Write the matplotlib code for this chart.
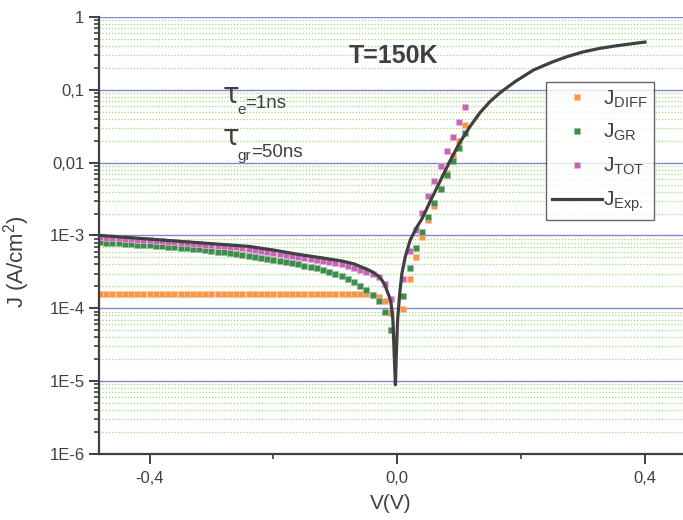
import matplotlib
matplotlib.use("Agg")
import matplotlib.pyplot as plt
from matplotlib.ticker import FixedLocator, NullFormatter
from matplotlib.lines import Line2D

plt.rcParams['font.family'] = ['Liberation Sans', 'DejaVu Sans']
plt.rcParams['mathtext.fontset'] = 'custom'
plt.rcParams['mathtext.rm'] = 'Liberation Sans'
plt.rcParams['mathtext.it'] = 'Liberation Sans'
plt.rcParams['mathtext.bf'] = 'Liberation Sans:bold'

# Données
v_left = [-0.48, -0.47, -0.46, -0.45, -0.44, -0.43, -0.42, -0.41, -0.40, -0.39,
          -0.38, -0.37, -0.36, -0.35, -0.34, -0.33, -0.32, -0.31, -0.30, -0.29,
          -0.28, -0.27, -0.26, -0.25, -0.24, -0.23, -0.22, -0.21, -0.20, -0.19,
          -0.18, -0.17, -0.16, -0.15, -0.14, -0.13, -0.12, -0.11, -0.10, -0.09,
          -0.08, -0.07, -0.06, -0.05, -0.04, -0.03, -0.02, -0.01]
v_right = [0.01, 0.02, 0.03, 0.04, 0.05, 0.06, 0.07, 0.08, 0.09, 0.10, 0.11]

j_diff_left = [
    1.58e-4, 1.58e-4, 1.58e-4, 1.58e-4, 1.58e-4, 1.58e-4, 1.58e-4, 1.58e-4, 1.58e-4, 1.58e-4,
    1.58e-4, 1.58e-4, 1.58e-4, 1.58e-4, 1.58e-4, 1.58e-4, 1.58e-4, 1.58e-4, 1.58e-4, 1.58e-4,
    1.58e-4, 1.58e-4, 1.58e-4, 1.58e-4, 1.58e-4, 1.58e-4, 1.58e-4, 1.58e-4, 1.58e-4, 1.58e-4,
    1.58e-4, 1.58e-4, 1.58e-4, 1.58e-4, 1.58e-4, 1.58e-4, 1.58e-4, 1.58e-4, 1.58e-4, 1.58e-4,
    1.58e-4, 1.58e-4, 1.57e-4, 1.55e-4, 1.50e-4, 1.43e-4, 1.24e-4, 0.85e-4]
j_diff_right = [9.8e-5, 2.53e-4, 5.12e-4, 9.44e-4, 1.63e-3, 2.54e-3, 4.31e-3,
                7.24e-3, 1.23e-2, 2.0e-2, 3.26e-2]

j_gr_left = [
    8.05e-4, 7.96e-4, 7.87e-4, 7.78e-4, 7.69e-4, 7.60e-4, 7.51e-4, 7.41e-4, 7.31e-4, 7.21e-4,
    7.11e-4, 7.01e-4, 6.91e-4, 6.81e-4, 6.71e-4, 6.58e-4, 6.44e-4, 6.30e-4, 6.16e-4, 6.02e-4,
    5.88e-4, 5.74e-4, 5.60e-4, 5.46e-4, 5.30e-4, 5.14e-4, 4.98e-4, 4.82e-4, 4.66e-4, 4.50e-4,
    4.34e-4, 4.18e-4, 4.02e-4, 3.86e-4, 3.70e-4, 3.54e-4, 3.37e-4, 3.19e-4, 2.99e-4, 2.77e-4,
    2.52e-4, 2.28e-4, 2.02e-4, 1.76e-4, 1.52e-4, 1.24e-4, 0.90e-4, 0.50e-4]
j_gr_right = [1.49e-4, 3.63e-4, 6.67e-4, 1.11e-3, 1.81e-3, 2.77e-3, 4.35e-3,
              6.78e-3, 1.05e-2, 1.60e-2, 2.53e-2]

j_tot_left = [
    9.45e-4, 9.33e-4, 9.22e-4, 9.10e-4, 8.99e-4, 8.87e-4, 8.76e-4, 8.64e-4, 8.53e-4, 8.41e-4,
    8.30e-4, 8.18e-4, 8.07e-4, 7.95e-4, 7.84e-4, 7.72e-4, 7.61e-4, 7.49e-4, 7.38e-4, 7.26e-4,
    7.15e-4, 7.03e-4, 6.92e-4, 6.80e-4, 6.60e-4, 6.40e-4, 6.20e-4, 6.00e-4, 5.80e-4, 5.60e-4,
    5.40e-4, 5.20e-4, 5.05e-4, 4.90e-4, 4.75e-4, 4.60e-4, 4.45e-4, 4.30e-4, 4.15e-4, 4.00e-4,
    3.80e-4, 3.60e-4, 3.40e-4, 3.18e-4, 2.95e-4, 2.65e-4, 2.18e-4, 1.35e-4]
j_tot_right = [2.51e-4, 6.18e-4, 1.19e-3, 2.06e-3, 3.48e-3, 5.65e-3, 8.99e-3,
               1.45e-2, 2.27e-2, 3.61e-2, 5.75e-2]

v_exp = [-0.48, -0.44, -0.40, -0.36, -0.32, -0.28, -0.24, -0.20, -0.16, -0.12,
         -0.09, -0.07, -0.05, -0.04, -0.03, -0.025, -0.02, -0.017, -0.013, -0.010,
         -0.007, -0.005, -0.003, -0.0015, 0.0005, 0.004, 0.0075, 0.013, 0.021, 0.032,
         0.04, 0.055, 0.07, 0.085, 0.10, 0.117, 0.134, 0.15, 0.166, 0.19,
         0.22, 0.25, 0.274, 0.30, 0.328, 0.355, 0.385, 0.40]
j_exp = [1.00e-3, 9.44e-4, 8.91e-4, 8.41e-4, 7.94e-4, 7.50e-4, 7.08e-4, 6.31e-4, 5.50e-4, 4.90e-4,
         4.47e-4, 4.07e-4, 3.47e-4, 3.16e-4, 2.75e-4, 2.45e-4, 2.09e-4, 1.78e-4, 1.45e-4, 1.17e-4,
         6.9e-5, 2.4e-5, 8.9e-6, 2.4e-5, 6.9e-5, 1.62e-4, 3.02e-4, 5.13e-4, 8.71e-4, 1.32e-3,
         1.70e-3, 3.16e-3, 5.75e-3, 1.05e-2, 1.82e-2, 3.09e-2, 4.90e-2, 6.92e-2, 9.12e-2, 0.129,
         0.187, 0.240, 0.285, 0.331, 0.372, 0.403, 0.436, 0.452]

x_ticks = [-0.4, 0.0, 0.4]
x_labels = ['-0,4', '0,0', '0,4']
x_minor = [-0.2, 0.2]
y_ticks = [1e-6, 1e-5, 1e-4, 1e-3, 1e-2, 1e-1, 1]
y_labels = ['1E-6', '1E-5', '1E-4', '1E-3', '0,01', '0,1', '1']

# Couleurs
c_diff, e_diff = '#f79646', '#fbc49c'
c_gr, e_gr = '#3f8c4c', '#94c29c'
c_tot, e_tot = '#c766b6', '#e4b4dc'
c_exp = '#404040'
c_txt = '#404040'

fig = plt.figure(figsize=(6.83, 5.20), dpi=100)
ax = fig.add_axes([0.145, 0.127, 0.855, 0.8404])
ax.set_yscale('log')
ax.set_xlim(-0.4816, 0.4614)
ax.set_ylim(1e-6, 1)

# Grille
y_minor = [m * 10.0 ** e for e in range(-6, 0) for m in range(2, 10)]
ax.yaxis.set_major_locator(FixedLocator(y_ticks))
ax.yaxis.set_minor_locator(FixedLocator(y_minor))
ax.yaxis.set_minor_formatter(NullFormatter())
ax.set_yticklabels(y_labels)
ax.set_xticks(x_ticks)
ax.set_xticklabels(x_labels)
ax.xaxis.set_minor_locator(FixedLocator(x_minor))
ax.grid(True, axis='y', which='major', color='#8585cc', lw=1.0)
ax.grid(True, axis='y', which='minor', color='#9fdc7c', lw=0.9, ls=(0, (1, 1.5)))
ax.set_axisbelow(True)

for s in ['top', 'right']:
    ax.spines[s].set_visible(False)
for s in ['left', 'bottom']:
    ax.spines[s].set_color(c_txt)
    ax.spines[s].set_linewidth(1.6)
ax.tick_params(which='major', direction='out', length=7, width=1.4, colors=c_txt,
               labelsize=12, labelcolor=c_txt)
ax.tick_params(which='minor', direction='out', length=3.6, width=1.2, colors=c_txt)
ax.tick_params(axis='x', which='major', pad=5)

mk = dict(ls='none', marker='s', ms=5, mew=0.5)
ax.plot(v_left, j_diff_left, color=c_diff, mec=e_diff, **mk)
ax.plot(v_right, j_diff_right, color=c_diff, mec=e_diff, **mk)
ax.plot(v_left, j_gr_left, color=c_gr, mec=e_gr, **mk)
ax.plot(v_right, j_gr_right, color=c_gr, mec=e_gr, **mk)
ax.plot(v_left, j_tot_left, color=c_tot, mec=e_tot, **mk)
ax.plot(v_right, j_tot_right, color=c_tot, mec=e_tot, **mk)
ax.plot(v_exp, j_exp, color=c_exp, lw=2.3, solid_joinstyle='round')

ax.set_xlabel('V(V)', fontsize=15, color=c_txt, labelpad=6)
ax.set_ylabel(r'J (A/cm$^2$)', fontsize=16, color=c_txt)
ax.yaxis.set_label_coords(-0.115, 0.44)

# Annotations
ax.text(-0.079, 0.234, 'T=150K', fontsize=18, fontweight='bold', color=c_txt,
        ha='left', va='baseline')
ax.text(-0.2828, 0.0659, '\u03c4', fontsize=20, color=c_txt, family='DejaVu Sans',
        ha='left', va='baseline')
ax.text(-0.2585, 0.0466, 'e', fontsize=11, color=c_txt, ha='left', va='baseline')
ax.text(-0.2455, 0.0564, '=1ns', fontsize=13.5, color=c_txt, ha='left', va='baseline')
ax.text(-0.2828, 0.0175, '\u03c4', fontsize=20, color=c_txt, family='DejaVu Sans',
        ha='left', va='baseline')
ax.text(-0.2585, 0.0109, 'gr', fontsize=11, color=c_txt, ha='left', va='baseline')
ax.text(-0.2355, 0.0120, '=50ns', fontsize=13.5, color=c_txt, ha='left', va='baseline')

handles = [
    Line2D([], [], ls='none', marker='s', ms=4.5, color=c_diff, mec=e_diff, mew=0.5),
    Line2D([], [], ls='none', marker='s', ms=4.5, color=c_gr, mec=e_gr, mew=0.5),
    Line2D([], [], ls='none', marker='s', ms=4.5, color=c_tot, mec=e_tot, mew=0.5),
    Line2D([], [], color=c_exp, lw=2.3),
]
labels = [r'$\mathrm{J}_{\mathrm{DIFF}}$', r'$\mathrm{J}_{\mathrm{GR}}$',
          r'$\mathrm{J}_{\mathrm{TOT}}$', r'$\mathrm{J}_{\mathrm{Exp.}}$']
leg = ax.legend(handles, labels, loc='upper left', bbox_to_anchor=(0.765, 0.851),
                fontsize=15, frameon=True, fancybox=False, borderpad=0.3,
                labelspacing=0.6, handlelength=2.4, handletextpad=0.05, borderaxespad=0)
leg.get_frame().set_edgecolor(c_txt)
leg.get_frame().set_linewidth(1.0)
for t in leg.get_texts():
    t.set_color(c_txt)

fig.savefig('out.png', dpi=100)
